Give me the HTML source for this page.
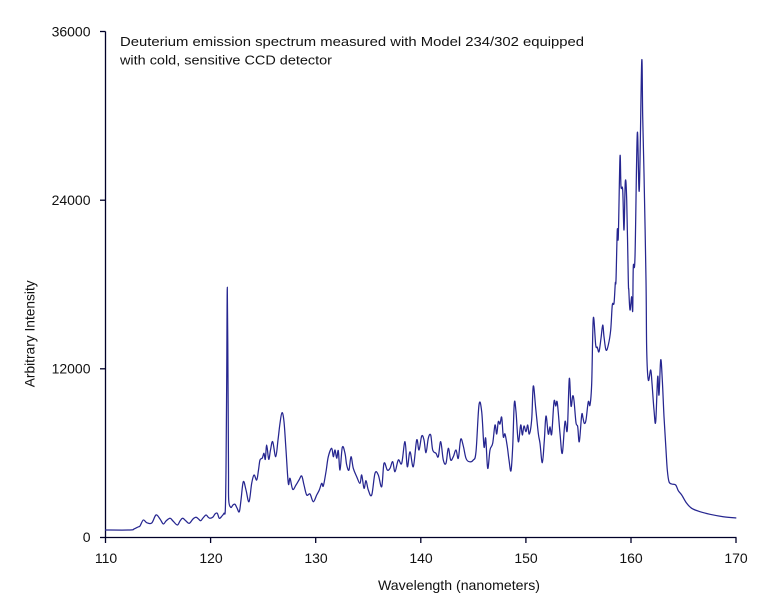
<!DOCTYPE html>
<html>
<head>
<meta charset="utf-8">
<style>
html,body{margin:0;padding:0;background:#fff;}
svg{display:block;}
text{font-family:"Liberation Sans",sans-serif;fill:#111;}
</style>
</head>
<body>
<svg id="chart" width="764" height="604" viewBox="0 0 764 604" xmlns="http://www.w3.org/2000/svg">
<rect width="764" height="604" fill="#fff"/>
<!-- axes -->
<g stroke="#000028" stroke-width="1.3" fill="none">
<line x1="105.5" y1="31.5" x2="105.5" y2="537.5"/>
<line x1="105" y1="537.5" x2="736.5" y2="537.5"/>
<line x1="100" y1="31.5" x2="105.5" y2="31.5"/>
<line x1="100" y1="200.2" x2="105.5" y2="200.2"/>
<line x1="100" y1="368.8" x2="105.5" y2="368.8"/>
<line x1="100" y1="537.5" x2="105.5" y2="537.5"/>
<line x1="105.5" y1="537.5" x2="105.5" y2="543"/>
<line x1="210.6" y1="537.5" x2="210.6" y2="543"/>
<line x1="315.7" y1="537.5" x2="315.7" y2="543"/>
<line x1="420.8" y1="537.5" x2="420.8" y2="543"/>
<line x1="525.9" y1="537.5" x2="525.9" y2="543"/>
<line x1="631" y1="537.5" x2="631" y2="543"/>
<line x1="736" y1="537.5" x2="736" y2="543"/>
</g>
<!-- y tick labels -->
<g font-size="14" text-anchor="end">
<text x="90.5" y="36.5">36000</text>
<text x="90.5" y="205">24000</text>
<text x="90.5" y="373.5">12000</text>
<text x="90.5" y="542">0</text>
</g>
<!-- x tick labels -->
<g font-size="14" text-anchor="middle">
<text x="106" y="563">110</text>
<text x="211" y="563">120</text>
<text x="316" y="563">130</text>
<text x="421" y="563">140</text>
<text x="526" y="563">150</text>
<text x="631" y="563">160</text>
<text x="736" y="563">170</text>
</g>
<!-- axis titles -->
<text x="378" y="590" font-size="14" textLength="162" lengthAdjust="spacingAndGlyphs">Wavelength (nanometers)</text>
<text transform="translate(34.5,387.3) rotate(-90)" x="0" y="0" font-size="14" textLength="107" lengthAdjust="spacingAndGlyphs">Arbitrary Intensity</text>
<!-- annotation -->
<text x="120" y="46" font-size="13" textLength="464" lengthAdjust="spacingAndGlyphs">Deuterium emission spectrum measured with Model 234/302 equipped</text>
<text x="120" y="64.3" font-size="13" textLength="212" lengthAdjust="spacingAndGlyphs">with cold, sensitive CCD detector</text>
<!-- spectrum -->
<polyline id="spec" fill="none" stroke="#262690" stroke-width="1.25" stroke-linejoin="round" points="
105,530 130,530 134,529 138,527 140,526 143.3,520 146.7,522.7 151.7,523 156,515 160,519 163.3,524 166,521 170,518.3 173,521 177.3,525 180,521 182.7,518.3 186,521 189.3,523.3 193,519 196,517.3 198.5,519 200.7,520.7 203,518 206,515 208,517 210,518.3 213,517 215,514 217.3,513.3 219.3,518.3 222,516 224,513.3 225.3,510 226,470 226.7,380 227.3,287.3 228,380 228.5,470 228.7,500 230.7,507.3 233,505 235,504.3 237,508 239.3,511.7 241,500 243.3,481.7 246,490 249,501.7 251.7,483.3 254,475 256.7,480 258.5,470 260,460 262.3,458 264,453.3 265.3,459.3 266.7,445 268.7,459.3 270.5,450 272.7,441.7 275.7,456.7 278,440 280,423.3 282,412.7 284,421.7 286,450 288.3,483.3 290,478.3 292.7,489.3 296,485 299,480 301.7,476 304,485 306.7,495 310,494 313.3,501.7 316.7,495 319.3,490 321.7,483.3 323.3,486 326,471.7 328.3,456.7 331.7,448.3 333.3,456.7 335,450 336.7,458.3 338.3,450.7 340,470 342.3,447.3 345,453.3 346.7,465 349,470 351,456.7 353.3,468.3 356.7,476.7 360,483.3 361.7,475 364,488.3 366,480.7 368.3,490 371.7,495 375,473.3 378.3,475 381.7,486.7 384,463.3 387.3,470 390,468.3 392.7,461.7 395,471.7 398.3,460 401.7,463.3 405,441.7 407.3,466.7 410,451.7 413.3,466.7 416.7,440 419,450 421.7,436 424,440 426,452.7 428.3,438.3 430.7,435 432.7,450 436,453.3 438.3,456.7 440.7,441.7 443.3,460 446,463.3 448.3,448.3 450.7,460 453.3,456.7 456,450 458.3,458.3 460.7,439.3 463.3,446 466,458.3 469.3,461.7 473.3,460 476,451.7 479,405 481.7,411.7 484,446.7 485.7,438.3 487.7,468.3 490,450 492.7,443.3 495,425 496.7,434 498.3,421.7 500,424 501.7,417.3 503.3,436.7 505,434 507.3,446.7 509,460 511,470.7 512.7,446.7 514.3,403.3 516,411.7 518.3,441.7 520.7,425 522.3,435 524,426 526,431.7 527.7,425 529.3,434 531.7,419.3 533.3,386 535.7,408.3 538.3,433.3 540,443.3 542.3,462.7 544.3,440.7 546,416 548.3,434 550,426.7 551.7,434 554,401.7 555.7,406 557.3,402.7 560,433.3 562.3,453.3 565,421.7 567.3,430 569.3,378.7 571,406 572.7,396 574,400.7 576,422.7 577.7,426.7 579.3,441.7 581.7,415 583,418 584.3,423.3 586,420 588.3,401.7 590,405 591.7,383.3 593.3,318.3 595.7,345 597.3,347.3 599,351.7 601,338.3 602.7,325 604,336.7 606,350 608.3,345 610.7,330 612.3,305 614,303.3 615.3,283.3 616,280 617.3,230 618.3,236.7 620,156.7 621,186.7 622.7,190 624,230 625.3,181.7 626.7,200 628.3,280 628.8,290 630,310 631.7,296.7 632.7,310.7 633.3,266.7 635,256.7 637.3,133.3 639.3,190 641.7,61.7 642.7,116.7 644,173.3 646,280 646.7,350 648.3,380 650.7,370 652,383.3 654,410 655.7,421.7 657.7,376.7 659,395 660.7,360 662.3,380 664,416.7 666,450 667.3,470 669,481.7 671.7,484 675.7,485 678.3,490.7 681.7,495 686.7,503.3 691.7,508.3 700,511.7 710,514.3 723.3,516.7 736.3,518"/>
</svg>
<script>
(function(){
  var pl=document.getElementById('spec');
  if(!pl) return;
  var raw=pl.getAttribute('points').trim().split(/\s+/);
  var p=raw.map(function(s){var a=s.split(',');return [parseFloat(a[0]),parseFloat(a[1])];});
  var d='M'+p[0][0]+','+p[0][1];
  var t=0.35;
  for(var i=0;i<p.length-1;i++){
    var p0=p[i>0?i-1:i],p1=p[i],p2=p[i+1],p3=p[i+2<p.length?i+2:i+1];
    var c1x=p1[0]+(p2[0]-p0[0])*t/2, c1y=p1[1]+(p2[1]-p0[1])*t/2;
    var c2x=p2[0]-(p3[0]-p1[0])*t/2, c2y=p2[1]-(p3[1]-p1[1])*t/2;
    d+=' C'+c1x.toFixed(2)+','+c1y.toFixed(2)+' '+c2x.toFixed(2)+','+c2y.toFixed(2)+' '+p2[0]+','+p2[1];
  }
  var path=document.createElementNS('http://www.w3.org/2000/svg','path');
  path.setAttribute('d',d);
  path.setAttribute('fill','none');
  path.setAttribute('stroke','#262690');
  path.setAttribute('stroke-width','1.25');
  path.setAttribute('stroke-linejoin','round');
  pl.parentNode.replaceChild(path,pl);
})();
</script>
</body>
</html>
